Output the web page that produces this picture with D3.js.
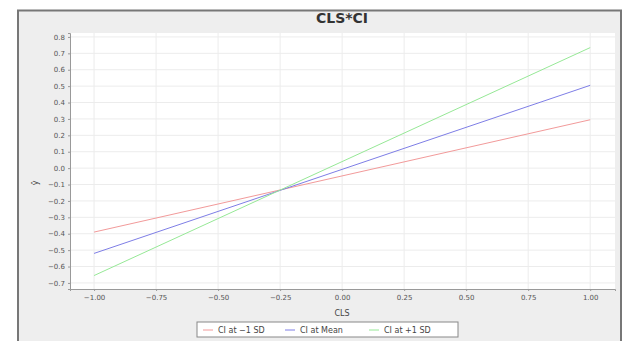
<!DOCTYPE html>
<html>
<head>
<meta charset="utf-8">
<script src="https://cdn.jsdelivr.net/npm/d3@7"></script>
<style>
  body { margin: 0; background: #fff; }
  svg { font-family: "DejaVu Sans", sans-serif; }
</style>
</head>
<body>
<div id="chart"></div>
<script>
// x values where each simple slope is evaluated
let xVals = [-1, 1];
let seriesNames = ['CI at \u22121 SD', 'CI at Mean', 'CI at +1 SD'];
let lowSD = [-0.39, 0.295];
let meanCI = [-0.52, 0.505];
let highSD = [-0.655, 0.735];
let seriesColors = ['#f29a9a', '#7e7ee6', '#96e896'];
let xTicks = [-1, -0.75, -0.5, -0.25, 0, 0.25, 0.5, 0.75, 1];
let yTicks = [-0.7, -0.6, -0.5, -0.4, -0.3, -0.2, -0.1, 0, 0.1, 0.2, 0.3, 0.4, 0.5, 0.6, 0.7, 0.8];

let W = 625, H = 341;
let margin = {top: 33, right: 10, bottom: 52, left: 70};
let width = 615 - margin.left;
let height = 289 - margin.top;

let svg = d3.select('#chart').append('svg')
    .attr('width', W)
    .attr('height', H);

// outer panel
svg.append('rect')
    .attr('x', 18).attr('y', 10.5)
    .attr('width', 603).attr('height', 340)
    .attr('fill', '#eeeeee')
    .attr('stroke', '#777').attr('stroke-width', 2);

svg.append('text')
    .attr('x', 342).attr('y', 23)
    .attr('text-anchor', 'middle')
    .attr('font-size', 14).attr('font-weight', 'bold')
    .attr('fill', '#333')
    .text('CLS*CI');

let g = svg.append('g')
    .attr('transform', 'translate(' + margin.left + ',' + margin.top + ')');

let x = d3.scaleLinear()
    .domain([-1.097, 1.1])
    .range([0, width]);
let y = d3.scaleLinear()
    .domain([-0.737, 0.824])
    .range([height, 0]);

g.append('rect')
    .attr('width', width).attr('height', height)
    .attr('fill', '#fff');

// grid
g.append('g').selectAll('line')
    .data(xTicks).enter().append('line')
    .attr('x1', d => x(d)).attr('x2', d => x(d))
    .attr('y1', 0).attr('y2', height)
    .attr('stroke', '#ececec').attr('stroke-width', 1);
g.append('g').selectAll('line')
    .data(yTicks).enter().append('line')
    .attr('y1', d => y(d)).attr('y2', d => y(d))
    .attr('x1', 0).attr('x2', width)
    .attr('stroke', '#ececec').attr('stroke-width', 1);

let xAxis = g.append('g')
    .attr('transform', 'translate(0,' + height + ')')
    .call(d3.axisBottom(x).tickValues(xTicks).tickFormat(d3.format('.2f')).tickSize(2));
let yAxis = g.append('g')
    .call(d3.axisLeft(y).tickValues(yTicks).tickFormat(d3.format('.1f')).tickSize(2));

[xAxis, yAxis].forEach(a => {
    a.select('.domain').attr('stroke', '#999');
    a.selectAll('.tick line').attr('stroke', '#999');
    a.selectAll('.tick text')
        .attr('font-size', 7)
        .attr('fill', '#555')
        .attr('font-family', '"DejaVu Sans", sans-serif');
});
xAxis.selectAll('.tick text').attr('dy', '0.9em');
xAxis.selectAll('.tick text').text(d => d3.format('.2f')(d).replace('-', '\u2212'));
yAxis.selectAll('.tick text').text(d => d3.format('.1f')(d).replace('-', '\u2212'));

// lines
let line = d3.line()
    .x((d, i) => x(xVals[i]))
    .y(d => y(d));
[lowSD, meanCI, highSD].forEach((s, i) => {
    g.append('path')
        .datum(s)
        .attr('d', line)
        .attr('fill', 'none')
        .attr('stroke', seriesColors[i])
        .attr('stroke-width', 1);
});

// axis titles
svg.append('text')
    .attr('x', 342).attr('y', 316)
    .attr('text-anchor', 'middle')
    .attr('font-size', 8).attr('fill', '#444')
    .text('CLS');
svg.append('text')
    .attr('transform', 'translate(38,183) rotate(-90)')
    .attr('text-anchor', 'middle')
    .attr('font-size', 8).attr('fill', '#444')
    .text('\u0177');

// legend
let legend = svg.append('g').attr('transform', 'translate(197,322)');
legend.append('rect')
    .attr('width', 261).attr('height', 15)
    .attr('fill', '#fff').attr('stroke', '#888');
let offsets = [6, 88, 172];
seriesNames.forEach((name, i) => {
    let item = legend.append('g').attr('transform', 'translate(' + offsets[i] + ',0)');
    item.append('line')
        .attr('x1', 0).attr('x2', 10)
        .attr('y1', 8).attr('y2', 8)
        .attr('stroke', seriesColors[i]);
    item.append('text')
        .attr('x', 15).attr('y', 11)
        .attr('font-size', 8).attr('fill', '#444')
        .text(name);
});
</script>
</body>
</html>
